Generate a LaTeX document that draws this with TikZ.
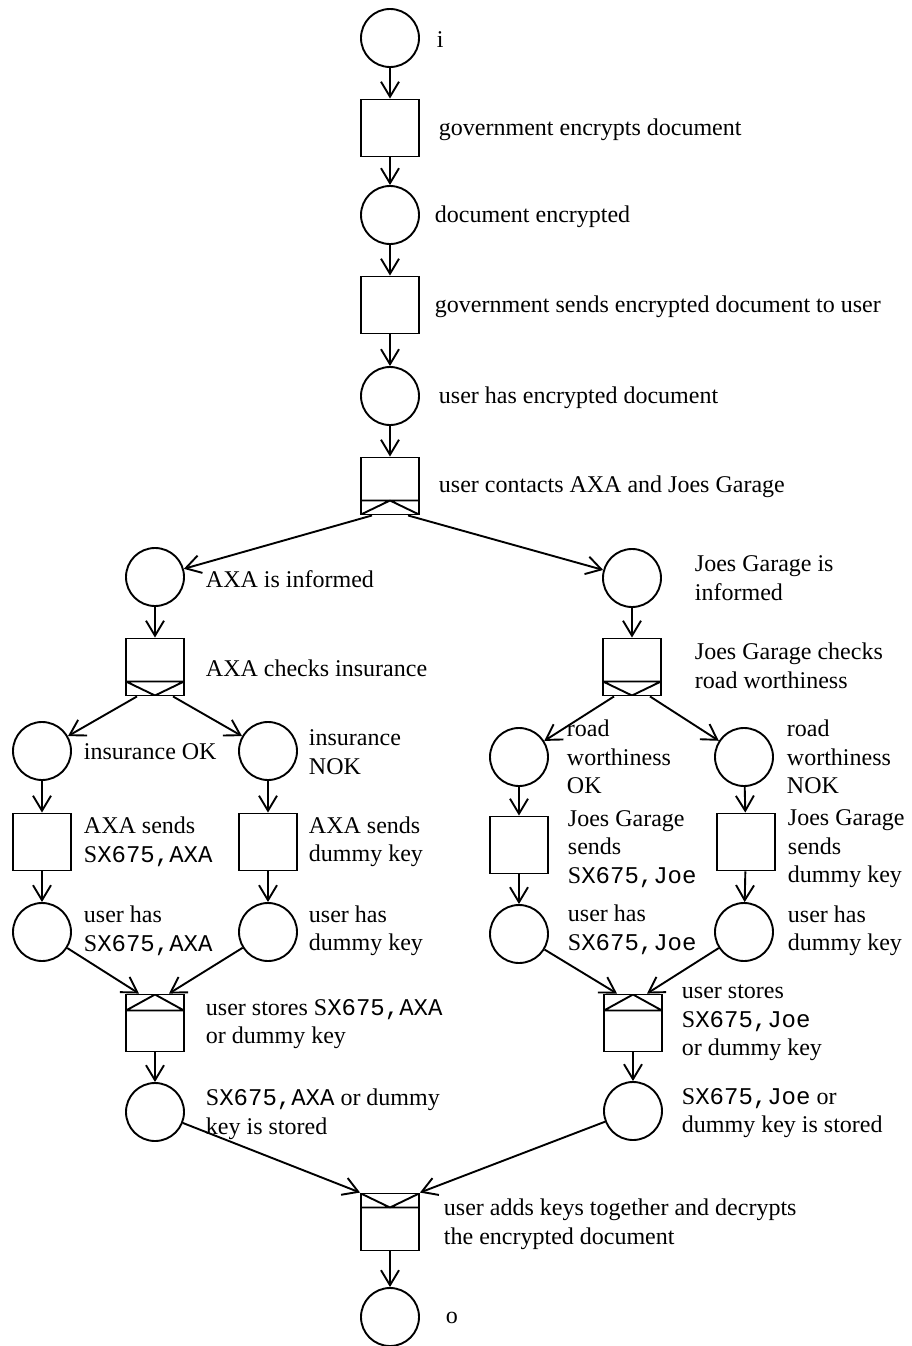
\documentclass[tikz,border=0pt]{standalone}
\usepackage{fontspec}
\setmainfont{Liberation Serif}
\setmonofont{Liberation Mono}
\usetikzlibrary{arrows.meta}
\newcommand{\keyA}{\textrm{S}\texttt{X675,AXA}}
\newcommand{\keyJ}{\textrm{S}\texttt{X675,Joe}}
\begin{document}
\begin{tikzpicture}[x=1pt,y=-1pt,line width=1.9pt,
  place/.style={draw,circle,minimum size=58pt,inner sep=0pt},
  trans/.style={draw,rectangle,minimum width=58pt,minimum height=57pt,inner sep=0pt},
  andsplit/.style={trans,path picture={
    \draw ([yshift=14pt]path picture bounding box.south west) -- ([yshift=14pt]path picture bounding box.south east)
          (path picture bounding box.south west) -- ([yshift=14pt]path picture bounding box.south) -- (path picture bounding box.south east);}},
  xorsplit/.style={trans,path picture={
    \draw ([yshift=14pt]path picture bounding box.south west) -- ([yshift=14pt]path picture bounding box.south east)
          ([yshift=14pt]path picture bounding box.south west) -- (path picture bounding box.south) -- ([yshift=14pt]path picture bounding box.south east);}},
  xorjoin/.style={trans,path picture={
    \draw ([yshift=-16pt]path picture bounding box.north west) -- ([yshift=-16pt]path picture bounding box.north east)
          ([yshift=-16pt]path picture bounding box.north west) -- (path picture bounding box.north) -- ([yshift=-16pt]path picture bounding box.north east);}},
  andjoin/.style={trans,path picture={
    \draw ([yshift=-14pt]path picture bounding box.north west) -- ([yshift=-14pt]path picture bounding box.north east)
          (path picture bounding box.north west) -- ([yshift=-14pt]path picture bounding box.north) -- (path picture bounding box.north east);}},
  lbl/.style={anchor=west,align=left,inner sep=0pt,font=\fontsize{24}{28.5}\selectfont},
  flow/.style={-{Straight Barb[length=15pt,width=18pt]}}]
\useasboundingbox (0,0) rectangle (911,1346);
% places and transitions
\node[place] (p0) at (390,38) {};
\node[trans] (t1) at (390,128) {};
\node[place] (p1) at (390,215) {};
\node[trans] (t2) at (390,305) {};
\node[place] (p2) at (390,396) {};
\node[andsplit] (t3) at (390,486) {};
\node[place] (pA) at (155,577) {};
\node[place] (pJ) at (632,578) {};
\node[xorsplit] (tA) at (155,667) {};
\node[xorsplit] (tJ) at (632,667) {};
\node[place] (pA1) at (42,751) {};
\node[place] (pA2) at (268,751) {};
\node[place] (pJ1) at (519,757) {};
\node[place] (pJ2) at (744,757) {};
\node[trans] (tA1) at (42,842) {};
\node[trans] (tA2) at (268,842) {};
\node[trans] (tJ1) at (519,845) {};
\node[trans] (tJ2) at (746,842) {};
\node[place] (pA3) at (42,932) {};
\node[place] (pA4) at (268,932) {};
\node[place] (pJ3) at (519,934) {};
\node[place] (pJ4) at (744,932) {};
\node[xorjoin] (tA3) at (155,1023) {};
\node[xorjoin] (tJ3) at (633,1023) {};
\node[place] (pA5) at (155,1112) {};
\node[place] (pJ5) at (633,1111) {};
\node[andjoin] (tF) at (390,1222) {};
\node[place] (pF) at (390,1317) {};
% labels
\node[lbl] (l0) at (436,40) {i};
\node[lbl] (l1) at (438,130) {government encrypts document};
\node[lbl] (l2) at (434,217) {document encrypted};
\node[lbl] (l3) at (434,307) {government sends encrypted document to user};
\node[lbl] (l4) at (438,398) {user has encrypted document};
\node[lbl] (l5) at (438,487) {user contacts AXA and Joes Garage};
\node[lbl] (l6) at (205,579) {AXA is informed};
\node[lbl] (l7) at (694,578) {Joes Garage is\\informed};
\node[lbl] (l8) at (205,668) {AXA checks insurance};
\node[lbl] (l9) at (694,666) {Joes Garage checks\\road worthiness};
\node[lbl] (l10) at (83,752) {insurance OK};
\node[lbl] (l11) at (308,752) {insurance\\NOK};
\node[lbl] (l12) at (566,757) {road\\worthiness\\OK};
\node[lbl] (l13) at (786,757) {road\\worthiness\\NOK};
\node[lbl] (l14) at (83,842) {AXA sends\\\keyA};
\node[lbl] (l15) at (308,842) {AXA sends\\dummy key};
\node[lbl] (l16) at (567,849) {Joes Garage\\sends\\\keyJ};
\node[lbl] (l17) at (787,849) {Joes Garage\\sends\\dummy key};
\node[lbl] (l18) at (83,931) {user has\\\keyA};
\node[lbl] (l19) at (308,931) {user has\\dummy key};
\node[lbl] (l20) at (567,930) {user has\\\keyJ};
\node[lbl] (l21) at (787,931) {user has\\dummy key};
\node[lbl] (l22) at (205,1024) {user stores \keyA\\or dummy key};
\node[lbl] (l23) at (681,1023) {user stores\\\keyJ\\or dummy key};
\node[lbl] (l24) at (205,1114) {\keyA{} or dummy\\key is stored};
\node[lbl] (l25) at (681,1113) {\keyJ{} or\\dummy key is stored};
\node[lbl] (l26) at (443,1224) {user adds keys together and decrypts\\the encrypted document};
\node[lbl] (l27) at (445,1318) {o};
% arcs
\draw[flow] (p0) -- (t1);
\draw[flow] (t1) -- (p1);
\draw[flow] (p1) -- (t2);
\draw[flow] (t2) -- (p2);
\draw[flow] (p2) -- (t3);
\draw[flow] ([xshift=-18pt]t3.south) -- (pA);
\draw[flow] ([xshift=18pt]t3.south) -- (pJ);
\draw[flow] (pA) -- (tA);
\draw[flow] (pJ) -- (tJ);
\draw[flow] ([xshift=-18pt]tA.south) -- (pA1);
\draw[flow] ([xshift=18pt]tA.south) -- (pA2);
\draw[flow] ([xshift=-18pt]tJ.south) -- (pJ1);
\draw[flow] ([xshift=18pt]tJ.south) -- (pJ2);
\draw[flow] (pA1) -- (tA1);
\draw[flow] (pA2) -- (tA2);
\draw[flow] (pJ1) -- (tJ1);
\draw[flow] (pJ2) -- (tJ2);
\draw[flow] (tA1) -- (pA3);
\draw[flow] (tA2) -- (pA4);
\draw[flow] (tJ1) -- (pJ3);
\draw[flow] (tJ2) -- (pJ4);
\draw[flow] (pA3) -- ([xshift=-16pt]tA3.north);
\draw[flow] (pA4) -- ([xshift=14pt]tA3.north);
\draw[flow] (pJ3) -- ([xshift=-16pt]tJ3.north);
\draw[flow] (pJ4) -- ([xshift=14pt]tJ3.north);
\draw[flow] (tA3) -- (pA5);
\draw[flow] (tJ3) -- (pJ5);
\draw[flow] (pA5) -- (tF.north west);
\draw[flow] (pJ5) -- (tF.north east);
\draw[flow] (tF) -- (pF);
\end{tikzpicture}
\end{document}
